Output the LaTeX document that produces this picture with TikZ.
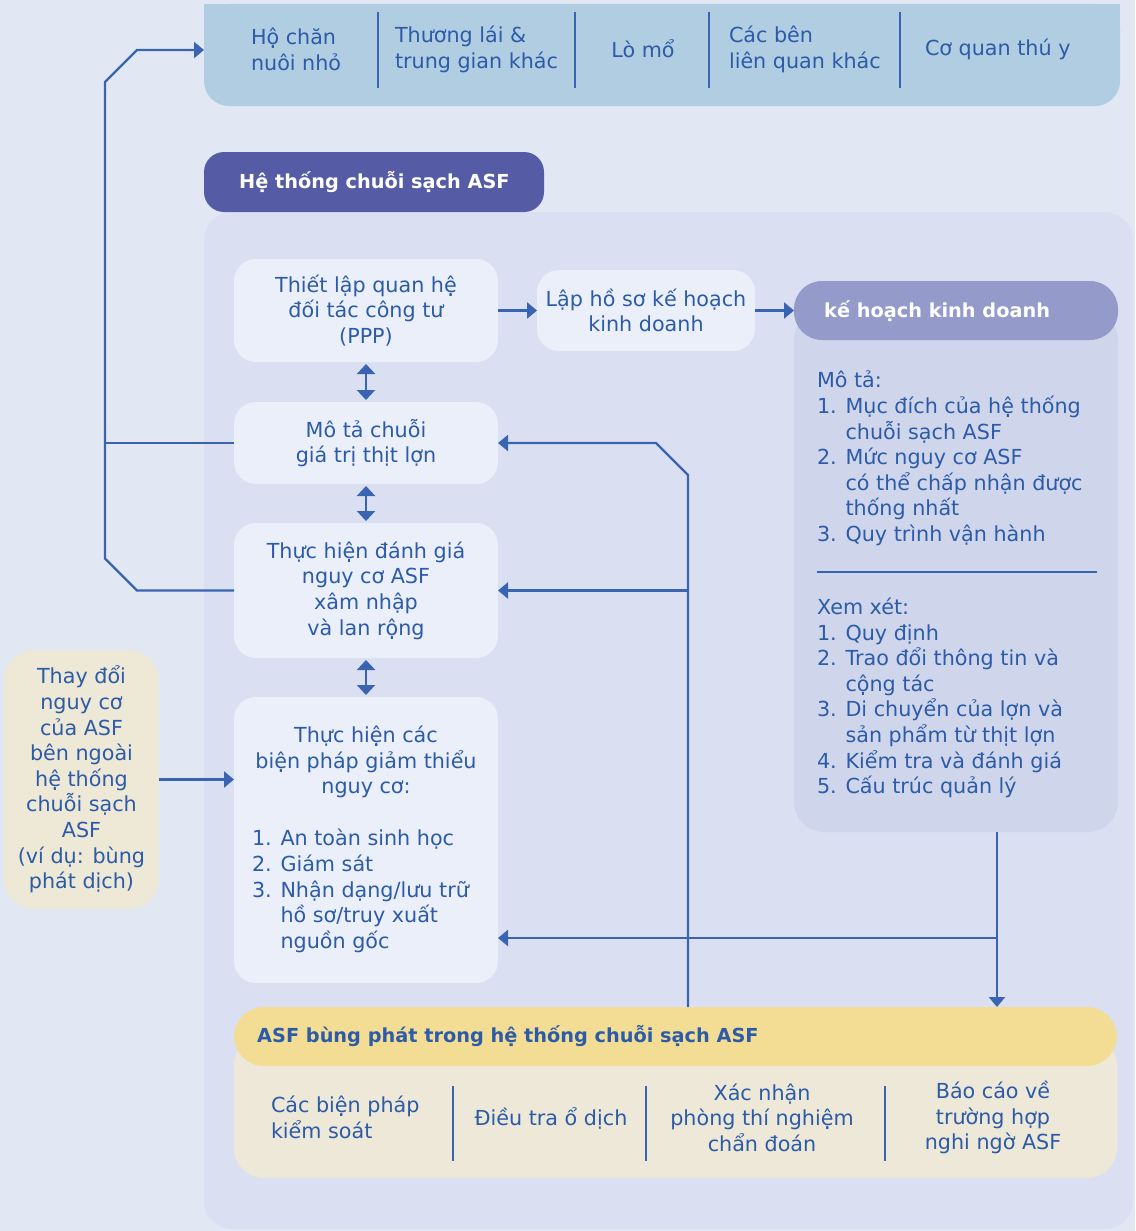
\documentclass[tikz,border=0pt]{standalone}
\usepackage{fontspec}
\setmainfont{DejaVu Sans}
\usetikzlibrary{arrows.meta}
\definecolor{bgc}{HTML}{E1E8F4}
\definecolor{topc}{HTML}{B1CDE1}
\definecolor{panelc}{HTML}{DAE0F2}
\definecolor{boxc}{HTML}{EBEFF9}
\definecolor{titc}{HTML}{565BA5}
\definecolor{khh}{HTML}{949BCB}
\definecolor{khb}{HTML}{CFD6EB}
\definecolor{beigec}{HTML}{EEE8D6}
\definecolor{yelc}{HTML}{F3DD94}
\definecolor{beigeb}{HTML}{EDE8D7}
\definecolor{txt}{HTML}{2C5BA8}
\definecolor{lnc}{HTML}{3A64B1}
\newcommand\fs{\fontsize{20.7}{25.6}\selectfont}
\newcommand\fsb{\fontsize{19.3}{24}\selectfont\bfseries}
\begin{document}
\begin{tikzpicture}[x=1pt,y=-1pt,
  shp/.style={inner sep=0pt, outer sep=0pt, draw=none},
  wbox/.style={shp, fill=boxc, rounded corners=22pt, text=txt, align=center, font=\fs},
  txtn/.style={inner sep=0pt, outer sep=0pt, text=txt, font=\fs},
  arr/.style={draw=lnc, line width=2.3pt, -{Triangle[width=16pt,length=10pt]}},
  darr/.style={draw=lnc, line width=2.3pt, {Triangle[width=18pt,length=10pt]}-{Triangle[width=18pt,length=10pt]}, shorten <=2pt, shorten >=2pt},
  ln/.style={draw=lnc, line width=2.3pt},
  divl/.style={draw=lnc, line width=1.7pt}]
\fill[bgc] (0,0) rectangle (1135,1231);
\useasboundingbox (0,0) rectangle (1135,1231);

% top bar
\node[shp, fill=topc, rounded corners=25pt, minimum width=916pt, minimum height=102pt] (topbar) at (662,55) {};
\fill[topc] (204,4) rectangle (1120,40);
\draw[divl] (378,12) -- (378,88);
\draw[divl] (575,12) -- (575,88);
\draw[divl] (709,12) -- (709,88);
\draw[divl] (900,12) -- (900,88);
\node[txtn, anchor=west, align=left] (t1) at (251,49.5) {Hộ chăn\\nuôi nhỏ};
\node[txtn, anchor=west, align=left] (t2) at (395,49.5) {Thương lái \&\\trung gian khác};
\node[txtn] (t3) at (643,49) {Lò mổ};
\node[txtn, anchor=west, align=left] (t4) at (729,49.5) {Các bên\\liên quan khác};
\node[txtn, anchor=west] (t5) at (925,49) {Cơ quan thú y};

% main panel and title
\node[shp, fill=panelc, rounded corners=28pt, minimum width=929pt, minimum height=1017pt] (panel) at (668.5,720.5) {};
\node[shp, fill=titc, rounded corners=20pt, minimum width=340pt, minimum height=60pt] (title) at (374,182) {};
\node[inner sep=0pt, anchor=west, text=white, font=\fsb] (titletxt) at (239,182) {Hệ thống chuỗi sạch ASF};

% left column boxes
\node[wbox, minimum width=264pt, minimum height=103pt] (b1) at (366,310.5) {Thiết lập quan hệ\\đối tác công tư\\(PPP)};
\node[wbox, minimum width=218pt, minimum height=81pt] (b1b) at (646,310.5) {Lập hồ sơ kế hoạch\\kinh doanh};
\node[wbox, minimum width=264pt, minimum height=82pt] (b2) at (366,443) {Mô tả chuỗi\\giá trị thịt lợn};
\node[wbox, minimum width=264pt, minimum height=135pt] (b3) at (366,590.5) {Thực hiện đánh giá\\nguy cơ ASF\\xâm nhập\\và lan rộng};
\node[wbox, minimum width=264pt, minimum height=286pt] (b4) at (366,840) {};
\node[txtn, align=center] (b4h) at (366,762) {Thực hiện các\\biện pháp giảm thiểu\\nguy cơ:};
\node[txtn, anchor=west, align=left] (b4l) at (252,891) {1. An toàn sinh học\\2. Giám sát\\3. Nhận dạng/lưu trữ\\\hphantom{3. }hồ sơ/truy xuất\\\hphantom{3. }nguồn gốc};

% right panel
\node[shp, fill=khb, rounded corners=30pt, minimum width=324pt, minimum height=522pt] (khbody) at (956,571) {};
\node[shp, fill=khh, rounded corners=28pt, minimum width=324pt, minimum height=59pt] (kh) at (956,310.5) {};
\node[inner sep=0pt, anchor=west, text=white, font=\fsb] (khtxt) at (824,311) {kế hoạch kinh doanh};
\node[txtn, anchor=west, align=left] (mota) at (817,458.5) {Mô tả:\\1. Mục đích của hệ thống\\\hphantom{1. }chuỗi sạch ASF\\2. Mức nguy cơ ASF\\\hphantom{2. }có thể chấp nhận được\\\hphantom{2. }thống nhất\\3. Quy trình vận hành};
\draw[lnc, line width=1.5pt] (817,572) -- (1097,572);
\node[txtn, anchor=west, align=left] (xem) at (817,698) {Xem xét:\\1. Quy định\\2. Trao đổi thông tin và\\\hphantom{2. }cộng tác\\3. Di chuyển của lợn và\\\hphantom{3. }sản phẩm từ thịt lợn\\4. Kiểm tra và đánh giá\\5. Cấu trúc quản lý};

% external box
\node[shp, fill=beigec, rounded corners=30pt, minimum width=155pt, minimum height=259pt, text=txt, font=\fs, align=center] (ext) at (81.5,779.5) {Thay đổi\\nguy cơ\\của ASF\\bên ngoài\\hệ thống\\chuỗi sạch\\ASF\\(ví dụ: bùng\\phát dịch)};

% outbreak box
\node[shp, fill=beigeb, rounded corners=30pt, minimum width=883pt, minimum height=143pt] (ybody) at (675.5,1106.5) {};
\node[shp, fill=yelc, rounded corners=30pt, minimum width=883pt, minimum height=59pt] (yh) at (675.5,1036.5) {};
\node[inner sep=0pt, anchor=west, text=txt, font=\fsb] (yhtxt) at (257,1036) {ASF bùng phát trong hệ thống chuỗi sạch ASF};
\draw[divl] (453,1086) -- (453,1161);
\draw[divl] (646,1086) -- (646,1161);
\draw[divl] (885,1086) -- (885,1161);
\node[txtn, anchor=west, align=left] (o1) at (271,1117.5) {Các biện pháp\\kiểm soát};
\node[txtn] (o2) at (551,1118) {Điều tra ổ dịch};
\node[txtn, align=center] (o3) at (762,1117.5) {Xác nhận\\phòng thí nghiệm\\chẩn đoán};
\node[txtn, align=center] (o4) at (993,1117.5) {Báo cáo về\\trường hợp\\nghi ngờ ASF};

% connectors
\draw[darr] (b1.south) -- (b2.north);
\draw[darr] (b2.south) -- (b3.north);
\draw[darr] (b3.south) -- (b4.north);
\draw[arr] (b1.east) -- (b1b.west);
\draw[arr] (b1b.east) -- (kh.west);
\draw[arr] (ext.east) -- (b4.west |- ext.east);

\coordinate (ka) at (137,590.5);
\coordinate (kb) at (105,558.5);
\coordinate (kc) at (105,82);
\coordinate (kd) at (137,50);
\draw[arr, line join=miter] (b3.west) -- (ka) -- (kb) -- (kc) -- (kd) -- (kd -| topbar.west);
\draw[ln] (b2.west) -- (b2.west -| kc);

\coordinate (rx) at (688,0);
\coordinate (ra) at (688,475);
\coordinate (rb) at (656,443);
\draw[arr, line join=miter] (yh.north -| rx) -- (ra) -- (rb) -- (b2.east);
\draw[arr] (b3.east -| rx) -- (b3.east);

\coordinate (dx) at (997,938);
\draw[arr] (khbody.south -| dx) -- (yh.north -| dx);
\draw[arr] (dx) -- (b4.east |- dx);
\end{tikzpicture}
\end{document}
